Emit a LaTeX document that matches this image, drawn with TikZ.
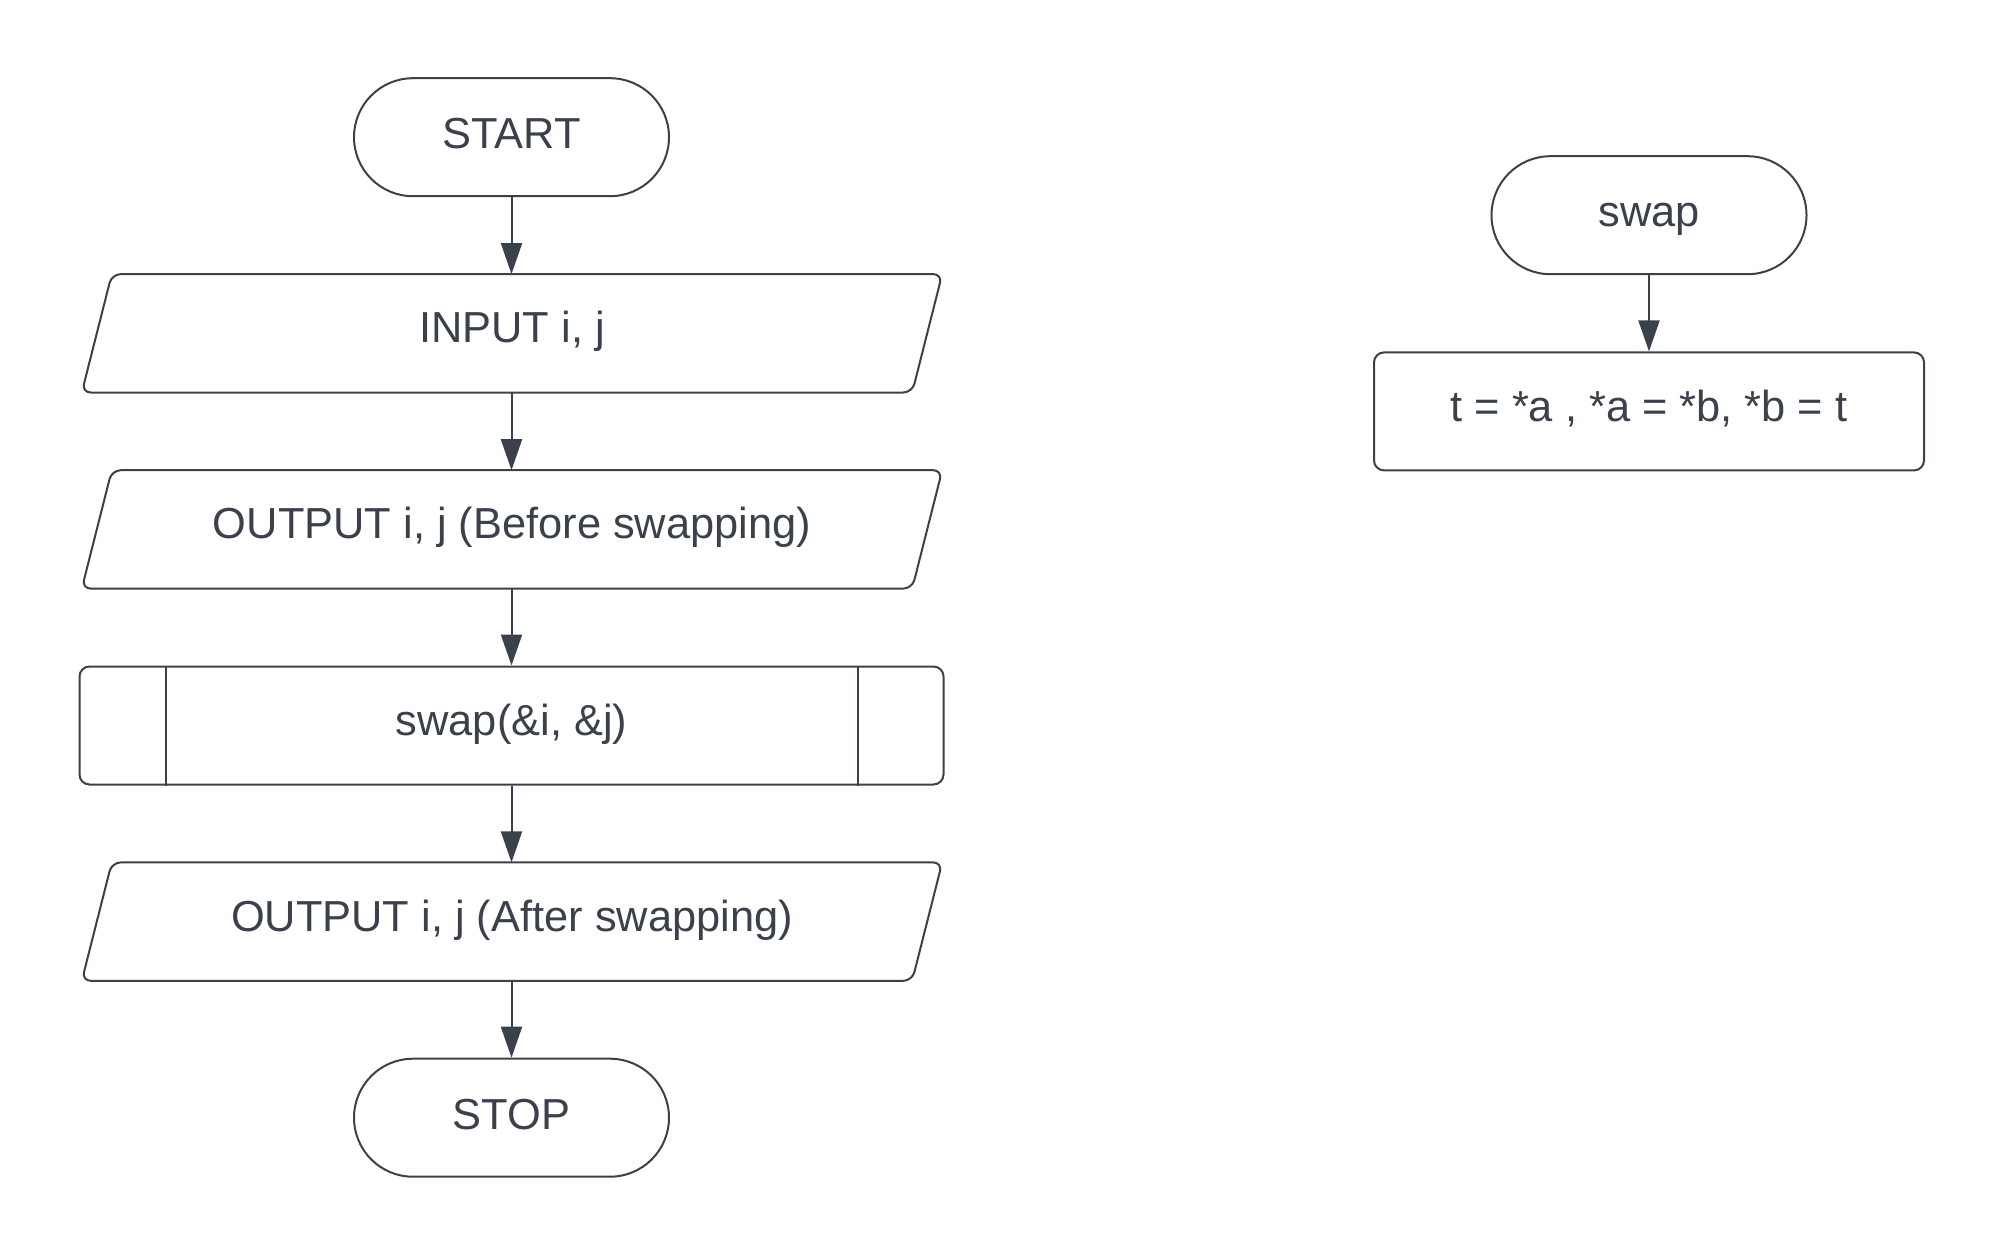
\documentclass[tikz,border=0pt]{standalone}
\usepackage{fontspec}
\setmainfont{Liberation Sans}
\usetikzlibrary{arrows.meta,calc}
\definecolor{ink}{HTML}{3A414B}
\begin{document}
\begin{tikzpicture}[x=1pt,y=-1pt,
  every node/.style={font=\fontsize{43.4}{52}\selectfont, text=ink, text height=32pt, text depth=9pt, inner sep=0pt},
  pill/.style={draw=ink, line width=2pt, rounded corners=59pt, minimum width=315pt, minimum height=118pt},
  iobox/.style={minimum width=860pt, minimum height=118pt, text depth=13pt},
  procbox/.style={draw=ink, line width=2pt, rounded corners=10pt, minimum height=118pt, text depth=12pt},
  flow/.style={draw=ink, line width=2pt, -{Triangle[length=31pt,width=21pt]}}
]
\useasboundingbox (0,0) rectangle (2000,1254);
% left column
\node[pill] (start) at (511.5,137.2) {START};
\node[iobox] (in) at (512,333.3) {INPUT i, j};
\node[iobox] (out1) at (512,529.4) {OUTPUT i, j (Before swapping)};
\node[procbox, minimum width=864pt] (call) at (511.5,725.5) {swap(\&i, \&j)};
\node[iobox] (out2) at (512,921.6) {OUTPUT i, j (After swapping)};
\node[pill] (stop) at (511.5,1117.7) {STOP};
% parallelograms
\foreach \n in {in,out1,out2}{
  \draw[ink, line width=2pt, rounded corners=9pt]
    ($(\n.north west)+(30,0)$) -- (\n.north east) -- ($(\n.south east)-(30,0)$) -- (\n.south west) -- cycle;
}
% subroutine bars
\draw[ink, line width=2pt] ($(call.north west)+(87,0)$) -- ($(call.south west)+(87,0)$);
\draw[ink, line width=2pt] ($(call.north east)-(87,0)$) -- ($(call.south east)-(87,0)$);
% connectors
\draw[flow] (start.south) -- (in.north -| start.south);
\draw[flow] (in.south -| start.south) -- (out1.north -| start.south);
\draw[flow] (out1.south -| start.south) -- (call.north);
\draw[flow] (call.south) -- (out2.north -| start.south);
\draw[flow] (out2.south -| start.south) -- (stop.north);
% right column
\node[pill] (swap) at (1649,215.2) {swap};
\node[procbox, minimum width=550pt] (body) at (1649,411.4) {t = *a , *a = *b, *b = t};
\draw[flow] (swap.south) -- (body.north);
\end{tikzpicture}
\end{document}
